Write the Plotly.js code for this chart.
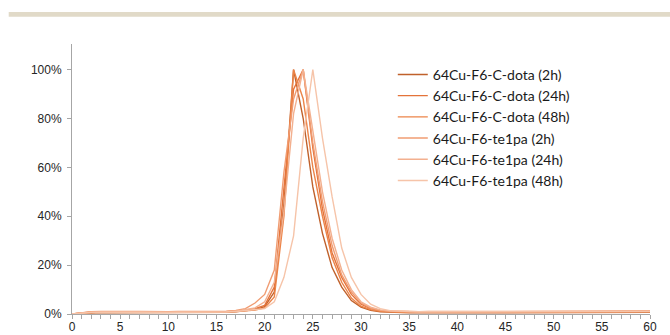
<!DOCTYPE html>
<html>
<head>
<meta charset="utf-8">
<script src="https://cdn.plot.ly/plotly-3.0.1.min.js"></script>
<style>html,body{margin:0;padding:0;background:#fff;}#chart{width:670px;height:335px;}</style>
</head>
<body>
<div id="chart"></div>
<script>
var minutes = [];
for (var i = 0; i <= 60; i++) minutes.push(i);

var seriesNames = [
  "64Cu-F6-C-dota (2h)",
  "64Cu-F6-C-dota (24h)",
  "64Cu-F6-C-dota (48h)",
  "64Cu-F6-te1pa (2h)",
  "64Cu-F6-te1pa (24h)",
  "64Cu-F6-te1pa (48h)"
];

var dota2h = [0,0.3,0.5,0.6,0.5,0.5,0.6,0.6,0.5,0.5,
  0.5,0.6,0.5,0.5,0.5,0.6,0.7,0.9,1.2,1.8,
  3,9,45,100,80,52,33,19,11,5.5,
  2.8,1.5,0.9,0.7,0.6,0.5,0.5,0.6,0.5,0.5,
  0.6,0.5,0.5,0.5,0.6,0.5,0.5,0.5,0.6,0.5,
  0.5,0.4,0.5,0.5,0.6,0.5,0.5,0.6,0.6,0.7,0.7];
var dota24h = [0,0.5,0.8,0.9,0.8,0.7,0.8,0.9,0.8,0.7,
  0.7,0.8,0.8,0.7,0.7,0.8,0.9,1.1,1.5,2.2,
  3.5,11,50,92,100,68,43,25,15,8,
  4,2.2,1.4,1,0.9,0.9,0.8,0.9,0.9,1,
  0.9,0.9,0.8,0.9,1,0.9,0.9,1,1,0.9,
  0.8,0.8,0.9,0.9,1,0.9,1,1,1.1,1,1.1];
var dota48h = [0,0.4,0.6,0.7,0.7,0.6,0.6,0.7,0.7,0.6,
  0.6,0.7,0.7,0.6,0.6,0.7,0.8,1,1.3,1.6,
  2.5,7,40,100,88,60,40,23,13,6.5,
  3.2,1.8,1.1,0.8,0.7,0.7,0.7,0.8,0.8,0.7,
  0.7,0.8,0.7,0.7,0.8,0.8,0.7,0.7,0.8,0.8,
  0.7,0.6,0.7,0.8,0.8,0.7,0.8,0.8,0.9,0.9,0.9];
var te1pa2h = [0,0.6,0.9,1,0.9,0.9,1,1,0.9,0.9,
  0.9,1,1,0.9,0.9,1,1.1,1.5,2.2,4.5,
  8,18,58,88,100,70,46,28,16,9,
  4.5,2.4,1.5,1.1,1,1,0.9,1,1,1,
  1,1,0.9,1,1,1,1,1.1,1,1,
  0.9,0.9,1,1,1.1,1,1.1,1.1,1.2,1.1,1.2];
var te1pa24h = [0,0.5,0.7,0.8,0.8,0.7,0.8,0.8,0.8,0.7,
  0.7,0.8,0.8,0.8,0.7,0.8,0.9,1.2,1.7,2.5,
  5,13,42,82,100,75,50,31,18,10,
  5,2.8,1.7,1.2,1,0.9,0.9,0.9,1,0.9,
  0.9,0.9,0.9,1,0.9,0.9,1,1,0.9,0.9,
  0.8,0.8,0.9,1,1,0.9,1,1,1,1,1.1];
var te1pa48h = [0,0.4,0.6,0.7,0.6,0.6,0.7,0.7,0.6,0.6,
  0.6,0.7,0.7,0.6,0.6,0.7,0.8,1,1.3,1.6,
  2.2,5,15,32,72,100,72,48,27,15,
  8,4,2.2,1.4,1.1,1,0.9,0.9,0.9,0.9,
  0.9,0.9,0.9,0.9,1,0.9,0.9,1,1,0.9,
  0.9,0.8,0.9,0.9,1,0.9,1,1,1,1,1];

var xTickVals = [0,5,10,15,20,25,30,35,40,45,50,55,60];
var yTickVals = [0,20,40,60,80,100];
var yTickText = ["0%","20%","40%","60%","80%","100%"];

var allSeries = [dota2h, dota24h, dota48h, te1pa2h, te1pa24h, te1pa48h];
var colors = ["#c0612b", "#e4733a", "#ec8448", "#f09c72", "#f3b08f", "#f6c4a9"];

var traces = allSeries.map(function (ys, k) {
  return {
    x: minutes, y: ys, name: seriesNames[k], type: "scatter", mode: "lines",
    line: {color: colors[k], width: 1.4},
    legendgroup: "g" + k
  };
});

var tickFont = {family: "Liberation Sans, Arial, sans-serif", size: 12, color: "#262626"};

var layout = {
  width: 670, height: 335,
  margin: {l: 72, r: 20, t: 44, b: 21},
  paper_bgcolor: "#ffffff", plot_bgcolor: "#ffffff",
  showlegend: true,
  legend: {
    x: 0.555, y: 0.945, xanchor: "left", yanchor: "top",
    font: {family: "Lato, Open Sans, sans-serif", size: 14, color: "#1a1a1a"},
    traceorder: "grouped", tracegroupgap: 0,
    bgcolor: "rgba(0,0,0,0)"
  },
  xaxis: {
    range: [0, 60], tickvals: xTickVals, ticktext: xTickVals.map(String),
    showgrid: false, zeroline: false,
    showline: true, linecolor: "#a6a6a6", linewidth: 1,
    ticks: "outside", ticklen: 4, tickcolor: "#a6a6a6",
    ticklabelstandoff: -2,
    minor: {dtick: 1, ticks: "outside", ticklen: 4, tickcolor: "#a6a6a6", showgrid: false},
    tickfont: tickFont
  },
  yaxis: {
    range: [0, 110.5], tickvals: yTickVals, ticktext: yTickText,
    showgrid: false, zeroline: false,
    showline: true, linecolor: "#a6a6a6", linewidth: 1,
    ticks: "outside", ticklen: 4, tickcolor: "#a6a6a6",
    ticklabelstandoff: 3,
    tickfont: tickFont
  },
  shapes: [{
    type: "rect", xref: "paper", yref: "paper",
    x0: -0.1095, x1: 1.035, y0: 1.1013, y1: 1.1187,
    fillcolor: "#e1dac8", line: {width: 0}, layer: "below"
  }]
};

Plotly.newPlot("chart", traces, layout, {displayModeBar: false, staticPlot: true});
</script>
</body>
</html>
